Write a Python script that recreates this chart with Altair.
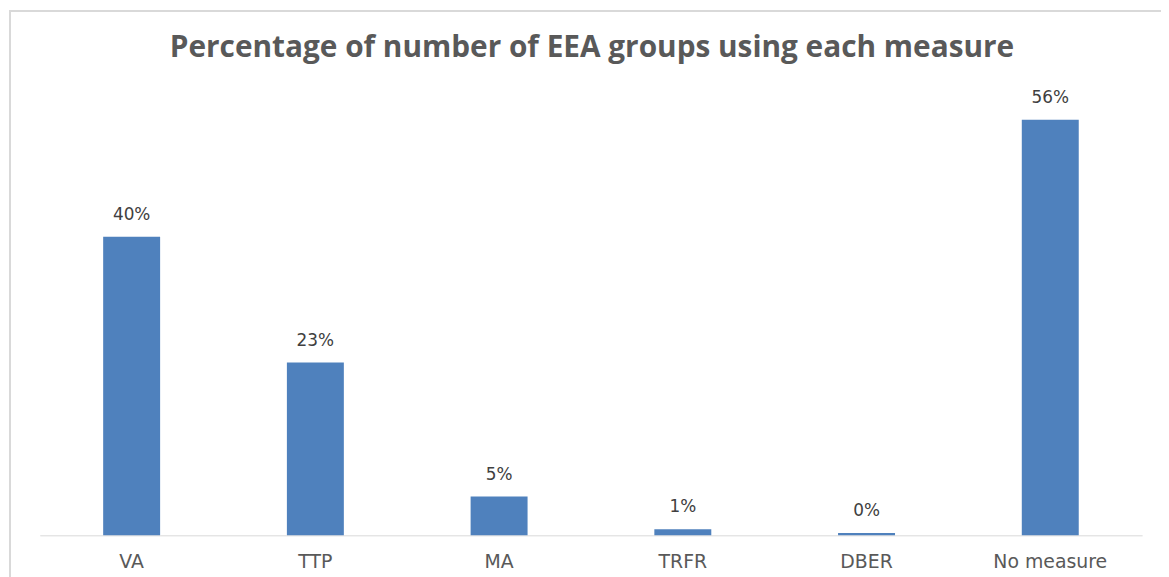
import altair as alt
import pandas as pd

categories = ["VA", "TTP", "MA", "TRFR", "DBER", "No measure"]
values = [40.1, 23.2, 5.2, 0.8, 0.3, 55.8]
labels = ["40%", "23%", "5%", "1%", "0%", "56%"]
title_text = "Percentage of number of EEA groups using each measure"

df = pd.DataFrame({"measure": categories, "pct": values, "label": labels})

W, H = 1110, 450
PAD_L, PAD_T, PAD_R, PAD_B = 32, 79, 19, 40

x = alt.X("measure:N", sort=categories,
          scale=alt.Scale(paddingInner=0, paddingOuter=0),
          axis=alt.Axis(title=None, labelAngle=0, ticks=False, domain=True,
                        domainColor="#d9d9d9", domainWidth=1,
                        labelFont="DejaVu Sans", labelFontSize=19,
                        labelColor="#595959", labelPadding=17))
y = alt.Y("pct:Q", scale=alt.Scale(domain=[0, 60], nice=False), axis=None)

border = alt.Chart(df).mark_rect(fill=None, stroke="#d9d9d9", strokeWidth=2).encode(
    x=alt.value(10 - 8 - PAD_L), x2=alt.value(W + 60),
    y=alt.value(9 - 8 - PAD_T), y2=alt.value(H + 80))

title = alt.Chart(pd.DataFrame({"t": [title_text]})).mark_text(
    font="Open Sans", fontSize=30, fontWeight="bold", color="#595959",
    align="center", baseline="middle").encode(
    x=alt.value(W / 2 + 1), y=alt.value(46 - 8 - PAD_T), text="t:N")

bars = alt.Chart(df).mark_bar(color="#4f81bd", width=alt.RelativeBandSize(0.31)).encode(x=x, y=y)

text = alt.Chart(df).mark_text(dy=-13, baseline="bottom", font="DejaVu Sans",
                               fontSize=17, color="#404040").encode(
    x=alt.X("measure:N", sort=categories), y=y, text="label:N")

chart = alt.layer(border, title, bars, text).properties(
    width=W, height=H,
    autosize=alt.AutoSizeParams(type="none"),
    padding={"left": PAD_L, "top": PAD_T, "right": PAD_R, "bottom": PAD_B},
).configure_view(stroke=None)

chart.save("out.html", embed_options={"renderer": "svg", "actions": False})
